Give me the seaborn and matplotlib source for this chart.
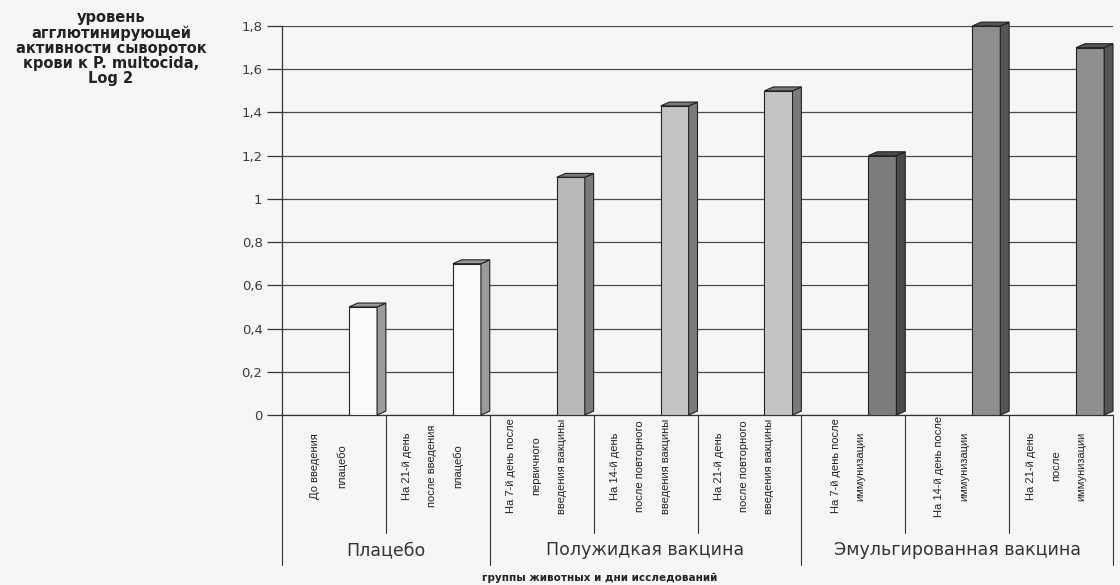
import matplotlib
matplotlib.use("Agg")
import matplotlib.pyplot as plt
import seaborn as sns
import pandas as pd
from matplotlib.patches import Polygon
from matplotlib.ticker import FuncFormatter

# ---- data ----
categories = [
    "До введения\nплацебо",
    "На 21-й день\nпосле введения\nплацебо",
    "На 7-й день после\nпервичного\nвведения вакцины",
    "На 14-й день\nпосле повторного\nвведения вакцины",
    "На 21-й день\nпосле повторного\nвведения вакцины",
    "На 7-й день после\nиммунизации",
    "На 14-й день после\nиммунизации",
    "На 21-й день\nпосле\nиммунизации",
]
values = [0.5, 0.7, 1.1, 1.43, 1.5, 1.2, 1.8, 1.7]
groups = ["Плацебо", "Полужидкая вакцина", "Эмульгированная вакцина"]
group_sizes = [2, 3, 3]
bar_colors = ["#fbfbfb", "#fbfbfb", "#b9b9b9", "#c4c4c4", "#c4c4c4",
              "#7c7c7c", "#8e8e8e", "#8e8e8e"]
side_colors = ["#9a9a9a", "#9a9a9a", "#7a7a7a", "#7a7a7a", "#7a7a7a",
               "#4a4a4a", "#555555", "#555555"]
yticks = [0, 0.2, 0.4, 0.6, 0.8, 1.0, 1.2, 1.4, 1.6, 1.8]
ylabel = "уровень\nагглютинирующей\nактивности сывороток\nкрови к P. multocida,\nLog 2"
xlabel = "группы животных и дни исследований"

df = pd.DataFrame({"cat": categories, "val": values})

sns.set_theme(style="white")
plt.rcParams["font.family"] = ["DejaVu Sans"]

bg = "#f6f6f6"
fig = plt.figure(figsize=(11.2, 5.85), dpi=100, facecolor=bg)
ax = fig.add_axes([282 / 1120, 1 - 415 / 585, (1113 - 282) / 1120, (415 - 26) / 585])
ax.set_facecolor(bg)

sns.barplot(data=df, x="cat", y="val", hue="cat", order=categories,
            palette=bar_colors, width=0.27, legend=False,
            edgecolor="#222222", linewidth=0.8, ax=ax, zorder=3)

# 3D-like side and top faces derived from the drawn bars
dx, dy = 0.085, 0.018
for p, sc in zip(ax.patches, side_colors):
    x0, w, h = p.get_x(), p.get_width(), p.get_height()
    side = Polygon([(x0 + w, 0), (x0 + w + dx, dy), (x0 + w + dx, h + dy), (x0 + w, h)],
                   closed=True, facecolor=sc, edgecolor="#222222", lw=0.8,
                   zorder=3, clip_on=False)
    top = Polygon([(x0, h), (x0 + dx, h + dy), (x0 + w + dx, h + dy), (x0 + w, h)],
                  closed=True, facecolor=sc, edgecolor="#222222", lw=0.8,
                  zorder=3, clip_on=False)
    ax.add_patch(side)
    ax.add_patch(top)

ax.set_xlim(-0.78, len(categories) - 0.78)
ax.set_ylim(0, 1.8)
ax.set_yticks(yticks)
ax.yaxis.set_major_formatter(FuncFormatter(
    lambda v, _: ("%g" % round(v, 1)).replace(".", ",")))
ax.tick_params(axis="y", direction="out", length=11, width=0.9, color="#333333",
               labelsize=9.5, labelcolor="#3a3a3a", left=True, pad=3)
ax.set_xticks([])
ax.set_xlabel("")
ax.set_ylabel("")
ax.grid(axis="y", color="#4a4a4a", lw=0.9, zorder=0)
ax.grid(axis="x", visible=False)
for s in ["top", "right"]:
    ax.spines[s].set_visible(False)
ax.spines["left"].set_color("#333333")
ax.spines["bottom"].set_color("#333333")
ax.spines["left"].set_linewidth(0.9)
ax.spines["bottom"].set_linewidth(0.9)

# category cells
n = len(categories)
cell_bottom = (415 - 533) / 389
group_bottom = (415 - 565) / 389
for i in range(n + 1):
    ax.plot([i / n, i / n], [0, cell_bottom], transform=ax.transAxes,
            color="#333333", lw=0.8, clip_on=False)
for i, lab in enumerate(categories):
    ax.text((i + 0.45) / n, (415 - 466) / 389, lab, transform=ax.transAxes,
            rotation=90, ha="center", va="center", multialignment="center",
            fontsize=8, linespacing=2.9, color="#222222",
            family=["Liberation Sans Narrow", "Liberation Sans", "DejaVu Sans"])

# group cells
edge = 0
for g, size in zip(groups, group_sizes):
    ax.plot([edge / n, edge / n], [cell_bottom, group_bottom], transform=ax.transAxes,
            color="#333333", lw=0.8, clip_on=False)
    ax.text((edge + size / 2) / n, (415 - 550) / 389, g, transform=ax.transAxes,
            ha="center", va="center", fontsize=12.5, color="#333333")
    edge += size
ax.plot([1, 1], [cell_bottom, group_bottom], transform=ax.transAxes,
        color="#333333", lw=0.8, clip_on=False)

fig.text(600 / 1120, 1 - 578 / 585, xlabel, ha="center", va="center",
         fontsize=7.5, fontweight="bold", color="#222222")
fig.text(111 / 1120, 1 - 48 / 585, ylabel, ha="center", va="center",
         fontsize=10.5, fontweight="bold", color="#222222", linespacing=1.02)

fig.savefig("out.png", dpi=100, facecolor=bg)
